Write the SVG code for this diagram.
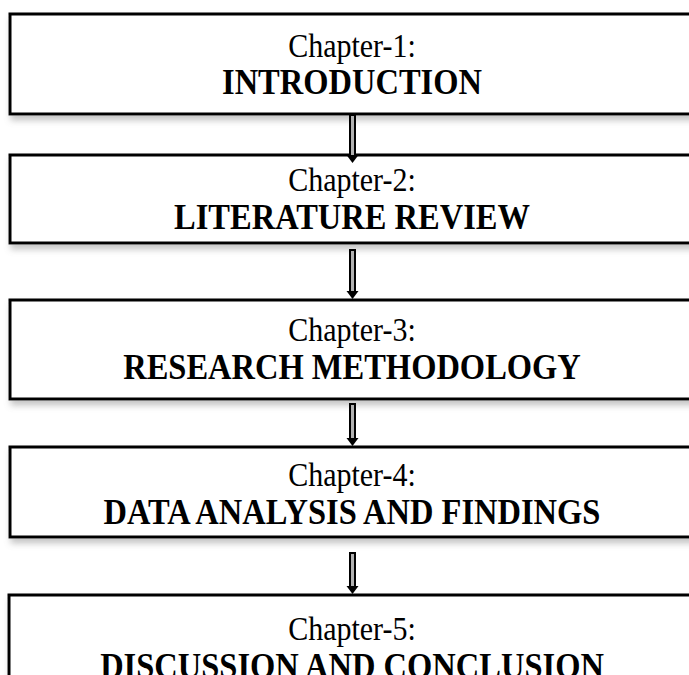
<svg xmlns="http://www.w3.org/2000/svg" width="689" height="675" viewBox="0 0 689 675">
<style>
.box{fill:#fff;stroke:#000;stroke-width:3;filter:url(#sh)}
.t1{font-family:"Liberation Serif","Times New Roman",serif;font-size:30px;text-anchor:middle;fill:#000}
.t2{font-family:"Liberation Serif","Times New Roman",serif;font-size:32.5px;font-weight:bold;text-anchor:middle;fill:#000}
.shaft{fill:#b0b0b0;stroke:#000;stroke-width:2}
.head{fill:#000}
</style>
<defs>
<filter id="sh" x="-5%" y="-10%" width="115%" height="130%">
<feDropShadow dx="2" dy="5" stdDeviation="3" flood-color="#808080" flood-opacity="0.45"/>
</filter>
</defs>
<g id="node1"><rect class="box" x="10" y="14" width="700" height="100"/><text class="t1" transform="translate(352,57) scale(1,1.1)">Chapter-1:</text><text class="t2" transform="translate(352,94) scale(1,1.1)">INTRODUCTION</text></g>
<g id="node2"><rect class="box" x="10" y="155" width="700" height="88"/><text class="t1" transform="translate(352,191) scale(1,1.1)">Chapter-2:</text><text class="t2" transform="translate(352,229) scale(1,1.1)">LITERATURE REVIEW</text></g>
<g id="node3"><rect class="box" x="10" y="300" width="700" height="99"/><text class="t1" transform="translate(352,341) scale(1,1.1)">Chapter-3:</text><text class="t2" transform="translate(352,379) scale(1,1.1)">RESEARCH METHODOLOGY</text></g>
<g id="node4"><rect class="box" x="10" y="447" width="700" height="90"/><text class="t1" transform="translate(352,486) scale(1,1.1)">Chapter-4:</text><text class="t2" transform="translate(352,524) scale(1,1.1)">DATA ANALYSIS AND FINDINGS</text></g>
<g id="node5"><rect class="box" x="9" y="595" width="700" height="120"/><text class="t1" transform="translate(352,640) scale(1,1.1)">Chapter-5:</text><text class="t2" transform="translate(352,678) scale(1,1.1)">DISCUSSION AND CONCLUSION</text></g>
<g id="connectors">
<rect class="shaft" x="350" y="115" width="5" height="41"/><path class="head" d="M346.5,155 L358.5,155 L352.5,163 Z"/>
<rect class="shaft" x="350" y="250" width="5" height="42"/><path class="head" d="M346.5,291 L358.5,291 L352.5,299 Z"/>
<rect class="shaft" x="350" y="404" width="5" height="35"/><path class="head" d="M346.5,438 L358.5,438 L352.5,446 Z"/>
<rect class="shaft" x="350" y="553" width="5" height="34"/><path class="head" d="M346.5,586 L358.5,586 L352.5,594 Z"/>
</g>
</svg>
